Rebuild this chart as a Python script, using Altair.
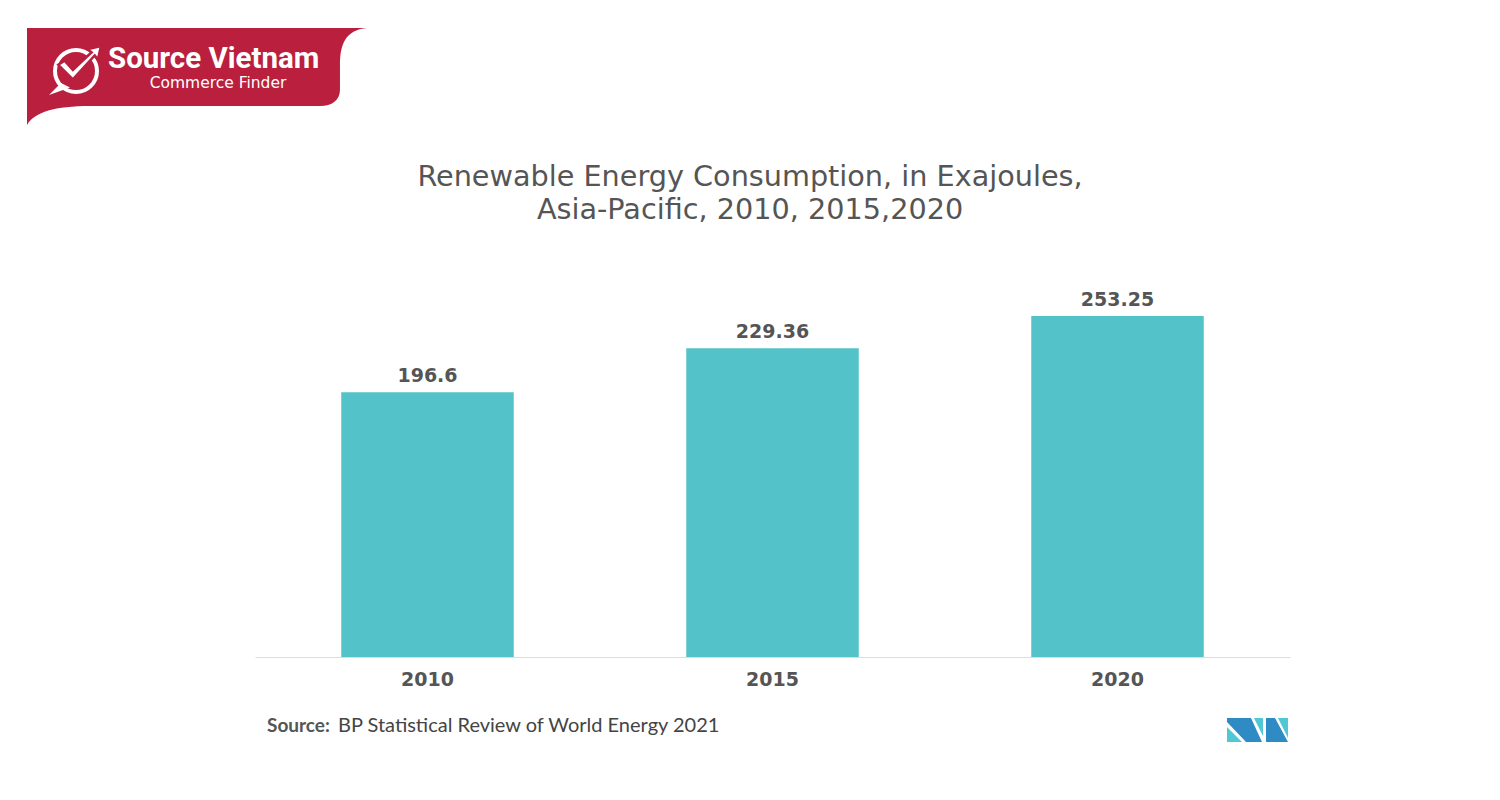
import altair as alt
import pandas as pd

# ---- data ----
years = ["2010", "2015", "2020"]
values = [196.6, 229.36, 253.25]
labels = ["196.6", "229.36", "253.25"]

title_lines = ["Renewable Energy Consumption, in Exajoules,", "Asia-Pacific, 2010, 2015,2020"]
source_head = "Source:"
source_rest = "BP Statistical Review of World Energy 2021"
brand_name = "Source Vietnam"
brand_tag = "Commerce Finder"

df = pd.DataFrame({"Year": years, "Value": values, "Label": labels})
one = alt.Data(values=[{}])

# page -> plot coordinates: plot origin at page (255, 253)
OX, OY = 255, 253
W, H = 1035, 404

x_enc = alt.X("Year:N", sort=years,
              scale=alt.Scale(paddingInner=0.5, paddingOuter=0.25),
              axis=alt.Axis(title=None, labelAngle=0, ticks=False,
                            domainColor="#dddddd", domainWidth=1,
                            labelFont="DejaVu Sans", labelFontWeight="bold",
                            labelFontSize=19, labelColor="#555555",
                            labelPadding=13))
y_enc = alt.Y("Value:Q", scale=alt.Scale(domain=[0, 300], nice=False), axis=None)

bars = alt.Chart(df).mark_bar(color="#53C3C9").encode(x=x_enc, y=y_enc)
vals = alt.Chart(df).mark_text(font="DejaVu Sans", fontWeight="bold", fontSize=19,
                               color="#555555", baseline="alphabetic", dy=-10).encode(
    x=alt.X("Year:N", sort=years), y="Value:Q", text="Label:N")

def txt(s, x, y, **kw):
    return alt.Chart(one).mark_text(**kw).encode(
        x=alt.value(x - OX), y=alt.value(y - OY), text=alt.value(s))

title1 = txt(title_lines[0], 750, 186, font="DejaVu Sans", fontSize=28.7, color="#555555",
             align="center", baseline="alphabetic")
title2 = txt(title_lines[1], 750, 219, font="DejaVu Sans", fontSize=28.7, color="#555555",
             align="center", baseline="alphabetic")
src1 = txt(source_head, 267, 732, font="Lato", fontSize=19, fontWeight="bold",
           color="#555555", align="left", baseline="alphabetic")
src2 = txt(source_rest, 338, 732, font="Lato", fontSize=20, color="#444444",
           align="left", baseline="alphabetic")

# ---- logo (decoration) ----
banner_path = ("M-1,-0.285 L1,-0.285 C0.871,-0.274 0.841,-0.185 0.841,-0.068 "
               "L0.841,0.079 C0.841,0.138 0.794,0.174 0.724,0.174 L-0.629,0.174 "
               "C-0.835,0.174 -0.953,0.209 -1,0.285 Z")
banner = alt.Chart(one).mark_point(shape=banner_path, size=340 ** 2, filled=True,
                                   fill="#BA1F3E", strokeWidth=0, opacity=1).encode(
    x=alt.value(197 - OX), y=alt.value(76.5 - OY))
ring = alt.Chart(one).mark_point(shape="circle", size=42 ** 2, filled=False,
                                 stroke="white", strokeWidth=4, opacity=1).encode(
    x=alt.value(76 - OX), y=alt.value(71 - OY))
tail_path = "M-1,1 L-0.2,0.2 L0.4,0.5 Z"
tail = alt.Chart(one).mark_point(shape=tail_path, size=30 ** 2, filled=True,
                                 fill="white", strokeWidth=0, opacity=1).encode(
    x=alt.value(64 - OX), y=alt.value(80 - OY))
check_path = ("M-0.68,-0.24 L-0.44,-0.4 L-0.12,-0.04 L0.6,-0.72 L0.44,-0.84 "
              "L0.96,-0.96 L0.84,-0.44 L0.72,-0.6 L-0.12,0.32 Z")
check = alt.Chart(one).mark_point(shape=check_path, size=52 ** 2, filled=True,
                                  fill="white", stroke="#BA1F3E", strokeWidth=2.5,
                                  opacity=1).encode(
    x=alt.value(76 - OX), y=alt.value(71 - OY))
brand1 = txt(brand_name, 108, 68, font="Roboto", fontSize=29.5, fontWeight="bold",
             color="white", align="left", baseline="alphabetic")
brand2 = txt(brand_tag, 218, 88, font="DejaVu Sans", fontSize=15.5, color="white",
             align="center", baseline="alphabetic")

# MN logo bottom right
dark_path = ("M-0.984,-0.387 L-0.21,-0.387 L0.145,0.387 L-0.371,0.387 L-0.984,-0.258 Z "
             "M0.274,-0.387 L0.565,-0.387 L0.984,0.387 L0.274,0.387 Z")
teal_path = ("M-0.984,-0.097 L-0.984,0.387 L-0.5,0.387 Z "
             "M-0.113,-0.387 L0.177,-0.387 L0.177,0.194 Z "
             "M0.661,-0.387 L0.984,-0.387 L0.984,0.258 Z")
mn_dark = alt.Chart(one).mark_point(shape=dark_path, size=62 ** 2, filled=True,
                                    fill="#2E8BC4", strokeWidth=0, opacity=1).encode(
    x=alt.value(1257.5 - OX), y=alt.value(730 - OY))
mn_teal = alt.Chart(one).mark_point(shape=teal_path, size=62 ** 2, filled=True,
                                    fill="#4FC8D4", strokeWidth=0, opacity=1).encode(
    x=alt.value(1257.5 - OX), y=alt.value(730 - OY))

chart = alt.layer(bars, vals, title1, title2, src1, src2, banner, ring, tail, check,
                  brand1, brand2, mn_dark, mn_teal).properties(
    width=W, height=H,
    autosize=alt.AutoSizeParams(type="none"),
    padding={"left": OX - 8, "top": OY - 8, "right": 200, "bottom": 130},
    background="white",
).configure_view(stroke=None)

chart.save("out.html", embed_options={"renderer": "svg", "actions": False})
